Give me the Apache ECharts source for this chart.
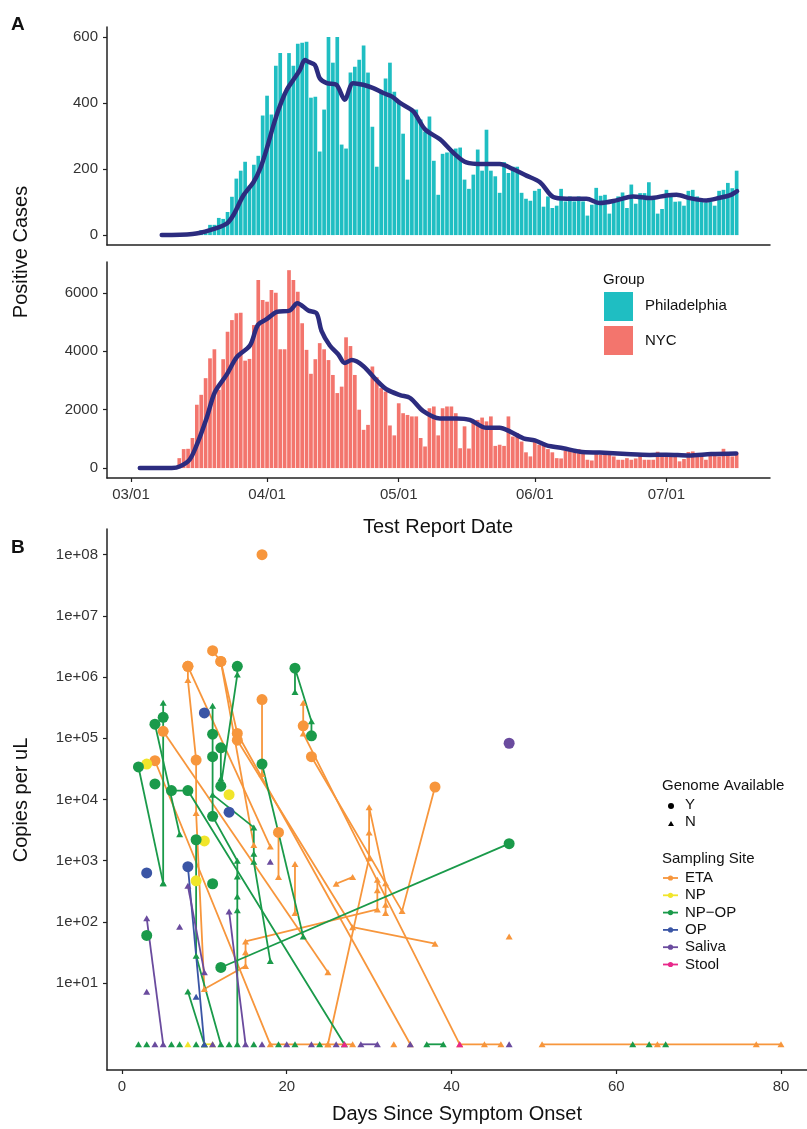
<!DOCTYPE html>
<html><head><meta charset="utf-8">
<script src="https://cdn.jsdelivr.net/npm/echarts@6/dist/echarts.min.js"></script>
<style>html,body{margin:0;padding:0;background:#fff}#c{width:807px;height:1129px}</style>
</head><body><div id="c"></div>
<script>
// ---------- Panel A data (day index: 0 = 03/01) ----------
const monthTicks = [0, 31, 61, 92, 122];
const monthLabels = ['03/01', '04/01', '05/01', '06/01', '07/01'];
const phlStart = 16;
const phlCases = [15,15,31,31,52,49,70,116,171,195,222,150,213,240,362,422,365,513,551,430,551,513,579,582,585,416,419,253,380,600,522,600,274,262,492,510,531,574,492,328,207,437,474,522,434,407,307,168,374,380,350,313,359,225,122,246,250,260,262,265,168,140,183,259,195,319,195,178,128,221,188,207,207,128,110,104,134,140,86,117,82,89,140,102,117,102,117,102,59,92,143,119,122,65,102,117,129,82,153,95,127,127,160,117,65,79,137,127,101,102,89,134,137,117,101,99,102,89,134,137,158,142,195];
const nycStart = 11;
const nycCases = [340,650,660,1030,2170,2510,3080,3760,4070,2680,3730,4670,5070,5300,5320,3680,3740,4900,6440,5760,5700,6100,6010,4070,4070,6780,6440,6040,4960,4050,3230,3730,4280,4070,3700,3190,2570,2790,4480,4180,3190,2000,1310,1480,3480,3110,2740,2620,1460,1120,2220,1880,1820,1770,1770,1030,740,2050,2110,1120,2050,2110,2110,1880,680,1430,670,1650,1650,1730,1600,1770,760,800,760,1770,1080,1200,910,540,400,910,800,800,650,540,340,330,590,590,590,650,510,285,260,510,455,455,455,400,285,285,340,285,330,455,285,285,285,560,510,400,400,400,230,310,550,570,455,455,285,455,455,400,660,455,400,535];
const phlTrend = [[7,0],[14,3],[18,15],[21.8,35],[23.3,60],[25.6,120],[27.9,160],[29.4,200],[30.9,260],[32.4,330],[33.9,390],[35.5,440],[37,470],[38.5,500],[39.6,530],[40.4,525],[41.9,515],[43,475],[44.6,460],[46.8,455],[48.7,410],[50.6,460],[52.9,455],[55.2,445],[57.5,430],[59.4,420],[61.3,400],[64.3,375],[67,320],[70.4,290],[73.4,250],[76.4,220],[80.2,215],[84,215],[87,200],[90.1,180],[93.2,160],[96.2,115],[99.2,110],[103.8,110],[106.8,97],[110.6,105],[114.4,117],[118.2,112],[122,120],[124.3,122],[127.3,112],[131.1,105],[134.2,113],[136.4,120],[138.1,133]];
const nycTrend = [[2,0],[9.3,0],[11.2,60],[13.4,300],[15,800],[17.2,1700],[19.1,2600],[21.8,3200],[24.1,3800],[27.1,4200],[28.9,4900],[30.9,5100],[33.2,5350],[36.2,5400],[37.9,5650],[40.4,5400],[42.3,5300],[43.4,4700],[45.3,4200],[47.2,3900],[48.7,3600],[50.3,3700],[52.9,3500],[56,3000],[58.2,2700],[61.3,2500],[63.6,2400],[66.6,1950],[70.4,1700],[74.2,1700],[77.2,1650],[81,1380],[84,1380],[86.4,1250],[89.4,1020],[92,950],[94.7,780],[98.5,680],[102.3,560],[106.8,530],[112.9,480],[118.2,450],[122,460],[127.1,430],[132.2,480],[137.9,500]];
const phlTicks = [0, 200, 400, 600];
const nycTicks = [0, 2000, 4000, 6000];

// ---------- Panel B data: [day, copies per uL, genome available (1=Y,0=N)] ----------
const daysTicks = [0, 20, 40, 60, 80];
const copyTicks = [1, 2, 3, 4, 5, 6, 7, 8];
const copyLabels = ['1e+01','1e+02','1e+03','1e+04','1e+05','1e+06','1e+07','1e+08'];
const etaTracks = [
  [[17,1e8,1]],
  [[8,1.5e6,1],[18,1700,0]],
  [[8,1.5e6,1],[8,9e5,0],[9,4.4e4,1],[9,6000,0],[10,8,0],[15,19,0],[15,32,0],[15,48,0],[31,160,0],[31,330,0],[31,490,0]],
  [[11,2.7e6,1],[12,1.8e6,1],[14,1.2e5,1],[35,1,0]],
  [[14,9.3e4,1],[28,82,0],[38,44,0]],
  [[12,1.8e6,1],[16,1800,0]],
  [[5,1.3e5,1],[25,15,0]],
  [[4,4.3e4,1],[18,1,0],[25,1,0],[28,1,0]],
  [[17,4.3e5,1],[17,2.6e4,0]],
  [[22,3.8e5,0],[22,1.6e5,1],[22,1.2e5,0],[41,1,0],[44,1,0],[46,1,0]],
  [[23,5e4,1],[34,150,0],[38,1.6e4,1]],
  [[25,1,0],[30,1100,0],[30,2900,0],[30,7500,0],[32,430,0],[32,190,0],[32,140,0]],
  [[26,420,0],[28,540,0]],
  [[19,2900,1],[19,540,0]],
  [[21,880,0],[21,140,0]],
  [[47,58,0]],
  [[51,1,0],[65,1,0],[77,1,0],[80,1,0]],
  [[33,1,0]]
];
const npTracks = [
  [[3,3.8e4,1]], [[13,1.2e4,1]], [[10,2100,1]], [[9,470,1]], [[8,1,0]], [[10,1,0],[11,1,0]]
];
const npopTracks = [
  [[2,3.4e4,1],[5,430,0]],
  [[5,3.8e5,0],[5,2.2e5,1],[5,430,0]],
  [[4,1.7e5,1],[7,2700,0]],
  [[4,1.8e4,1]],
  [[6,1.4e4,1],[8,1.4e4,1],[27,1,0]],
  [[11,3.4e5,0],[11,1.17e5,1],[11,5e4,1],[11,5300,1],[14,1000,0],[14,550,0],[14,260,0],[14,155,0],[14,1,0]],
  [[12,7e4,1],[12,2.2e4,0],[12,1.65e4,1],[14,1.1e6,0],[14,1.5e6,1]],
  [[9,2200,1],[9,28,0],[12,1,0]],
  [[17,3.8e4,1],[22,58,0]],
  [[21,5.7e5,0],[21,1.4e6,1],[23,1.9e5,0],[23,1.1e5,1]],
  [[12,18,1],[47,1900,1]],
  [[3,60,1]],
  [[11,420,1]],
  [[8,7.3,0],[10,1,0]],
  [[11,1.2e4,0],[16,3500,0],[16,1300,0],[16,960,0],[18,23,0]],
  [[37,1,0],[39,1,0]],
  [[2,1,0]],[[3,1,0]],[[6,1,0]],[[7,1,0]],[[9,1,0]],[[13,1,0]],[[16,1,0]],[[19,1,0]],[[21,1,0]],[[24,1,0]],[[62,1,0]],[[64,1,0]],[[66,1,0]]
];
const opTracks = [
  [[3,630,1]], [[8,800,1],[10,1,0]], [[9,6,0]], [[10,2.6e5,1]], [[13,6200,1]]
];
const salivaTracks = [
  [[3,115,0],[5,1,0]], [[3,7.2,0]], [[7,83,0]], [[8,390,0],[10,15,0]], [[13,148,0],[15,1,0]],
  [[18,960,0]], [[47,8.3e4,1]], [[29,1,0],[31,1,0]],
  [[4,1,0]],[[11,1,0]],[[17,1,0]],[[20,1,0]],[[23,1,0]],[[26,1,0]],[[35,1,0]],[[47,1,0]]
];
const stoolTracks = [ [[27,1,0]], [[41,1,0]] ];
const siteNames = ['ETA','NP','NP\u2212OP','OP','Saliva','Stool'];
const siteColors = ['#F7963C','#F1E52A','#1A9A4A','#3A55A5','#6A4B9E','#E8288A'];
const siteTracks = [etaTracks, npTracks, npopTracks, opTracks, salivaTracks, stoolTracks];

// ---------- build ----------
const FONT = 'Liberation Sans, Arial, sans-serif';
const axisCol = '#222';
const labCol = '#333';
const TEAL = '#1FBEC2', SALMON = '#F3756D', TREND = '#2C2C7F';

const phlBars = phlCases.map((v, i) => [phlStart + i, v]);
const nycBars = nycCases.map((v, i) => [nycStart + i, v]);

function monthFmt(v) { const i = monthTicks.indexOf(Math.round(v)); return i >= 0 ? monthLabels[i] : ''; }

const series = [
  { type: 'bar', xAxisIndex: 0, yAxisIndex: 0, data: phlBars, barWidth: 3.7, itemStyle: { color: TEAL }, silent: true },
  { type: 'line', xAxisIndex: 0, yAxisIndex: 0, data: phlTrend, smooth: 0.3, symbol: 'none', lineStyle: { color: TREND, width: 4.5, cap: 'round', join: 'round' }, z: 5 },
  { type: 'bar', xAxisIndex: 1, yAxisIndex: 1, data: nycBars, barWidth: 3.7, itemStyle: { color: SALMON }, silent: true },
  { type: 'line', xAxisIndex: 1, yAxisIndex: 1, data: nycTrend, smooth: 0.3, symbol: 'none', lineStyle: { color: TREND, width: 4.5, cap: 'round', join: 'round' }, z: 5 }
];

siteTracks.forEach((tracks, si) => {
  const pts = [];
  tracks.forEach(tr => {
    if (tr.length > 1) {
      series.push({ type: 'line', xAxisIndex: 2, yAxisIndex: 2, symbol: 'none', silent: true,
        data: tr.map(p => [p[0], Math.log10(p[1])]),
        lineStyle: { color: siteColors[si], width: 1.8 }, z: 3 });
    }
    tr.forEach(p => pts.push({ value: [p[0], Math.log10(p[1])], symbol: p[2] ? 'circle' : 'triangle', symbolSize: p[2] ? 11 : [7, 6] }));
  });
  series.push({ type: 'scatter', xAxisIndex: 2, yAxisIndex: 2, data: pts, itemStyle: { color: siteColors[si], opacity: 1 }, z: 4 + si * 0.01, silent: true });
});

const baseAxis = {
  axisLine: { show: true, onZero: false, lineStyle: { color: axisCol, width: 1.5 } },
  axisTick: { show: true, length: 4, lineStyle: { color: axisCol, width: 1.2 } },
  splitLine: { show: false },
  axisLabel: { color: labCol, fontSize: 15, fontFamily: FONT }
};
const plain = v => String(v);

const option = {
  animation: false,
  backgroundColor: '#fff',
  grid: [
    { left: 107, top: 27, width: 663, height: 218, outerBoundsMode: 'none' },
    { left: 107, top: 262, width: 663, height: 216, outerBoundsMode: 'none' },
    { left: 107, top: 529, width: 700, height: 541, outerBoundsMode: 'none' }
  ],
  xAxis: [
    Object.assign({}, baseAxis, { type: 'value', gridIndex: 0, min: -5.47, max: 145.6, axisTick: { show: false }, axisLabel: { show: false } }),
    Object.assign({}, baseAxis, { type: 'value', gridIndex: 1, min: -5.47, max: 145.6,
      axisTick: Object.assign({}, baseAxis.axisTick, { customValues: monthTicks }),
      axisLabel: Object.assign({}, baseAxis.axisLabel, { customValues: monthTicks, formatter: monthFmt, margin: 9 }) }),
    Object.assign({}, baseAxis, { type: 'value', gridIndex: 2, min: -1.82, max: 83.16,
      axisTick: Object.assign({}, baseAxis.axisTick, { customValues: daysTicks }),
      axisLabel: Object.assign({}, baseAxis.axisLabel, { customValues: daysTicks, margin: 9, formatter: plain }) })
  ],
  yAxis: [
    Object.assign({}, baseAxis, { type: 'value', gridIndex: 0, min: -30, max: 630,
      axisTick: Object.assign({}, baseAxis.axisTick, { customValues: phlTicks }),
      axisLabel: Object.assign({}, baseAxis.axisLabel, { customValues: phlTicks, margin: 9, formatter: plain }) }),
    Object.assign({}, baseAxis, { type: 'value', gridIndex: 1, min: -340, max: 7060,
      axisTick: Object.assign({}, baseAxis.axisTick, { customValues: nycTicks }),
      axisLabel: Object.assign({}, baseAxis.axisLabel, { customValues: nycTicks, margin: 9, formatter: plain }) }),
    Object.assign({}, baseAxis, { type: 'value', gridIndex: 2, min: -0.42, max: 8.42,
      axisTick: Object.assign({}, baseAxis.axisTick, { customValues: copyTicks }),
      axisLabel: Object.assign({}, baseAxis.axisLabel, { customValues: copyTicks, margin: 9,
        formatter: v => { const i = copyTicks.indexOf(Math.round(v)); return i >= 0 ? copyLabels[i] : ''; } }) })
  ],
  series: series,
  graphic: []
};

const G = option.graphic;
function txt(x, y, s, o) {
  G.push(Object.assign({ type: 'text', x: x, y: y, silent: true,
    style: Object.assign({ text: s, fill: '#111', fontSize: 15, fontFamily: FONT, textVerticalAlign: 'middle' }, o || {}) }));
}
txt(11, 25, 'A', { fontSize: 19, fontWeight: 'bold' });
txt(11, 548, 'B', { fontSize: 19, fontWeight: 'bold' });
txt(438, 527, 'Test Report Date', { fontSize: 20, textAlign: 'center' });
txt(457, 1114, 'Days Since Symptom Onset', { fontSize: 20, textAlign: 'center' });
G.push({ type: 'text', x: 21, y: 252, rotation: Math.PI / 2, silent: true,
  style: { text: 'Positive Cases', fill: '#111', fontSize: 20, fontFamily: FONT, textAlign: 'center', textVerticalAlign: 'middle' } });
G.push({ type: 'text', x: 21, y: 800, rotation: Math.PI / 2, silent: true,
  style: { text: 'Copies per uL', fill: '#111', fontSize: 20, fontFamily: FONT, textAlign: 'center', textVerticalAlign: 'middle' } });

// Group legend
txt(603, 280, 'Group', { fontSize: 15 });
G.push({ type: 'rect', shape: { x: 604, y: 292, width: 29, height: 29 }, style: { fill: TEAL }, silent: true });
G.push({ type: 'rect', shape: { x: 604, y: 326, width: 29, height: 29 }, style: { fill: SALMON }, silent: true });
txt(645, 306, 'Philadelphia', { fontSize: 15 });
txt(645, 341, 'NYC', { fontSize: 15 });

// Genome legend
txt(662, 786, 'Genome Available', { fontSize: 15 });
G.push({ type: 'circle', shape: { cx: 671, cy: 806, r: 3 }, style: { fill: '#000' }, silent: true });
txt(685, 805, 'Y', { fontSize: 15 });
G.push({ type: 'polygon', shape: { points: [[671, 821], [674, 826], [668, 826]] }, style: { fill: '#000' }, silent: true });
txt(685, 822, 'N', { fontSize: 15 });

// Sampling site legend
txt(662, 859, 'Sampling Site', { fontSize: 15 });
siteNames.forEach((n, i) => {
  const y = 878 + i * 17.3;
  G.push({ type: 'line', shape: { x1: 663, y1: y, x2: 678, y2: y }, style: { stroke: siteColors[i], lineWidth: 1.8 }, silent: true });
  G.push({ type: 'circle', shape: { cx: 670.5, cy: y, r: 2.6 }, style: { fill: siteColors[i] }, silent: true });
  txt(685, y, n, { fontSize: 15 });
});

const chart = echarts.init(document.getElementById('c'), null, { renderer: 'canvas' });
chart.setOption(option);
</script></body></html>
